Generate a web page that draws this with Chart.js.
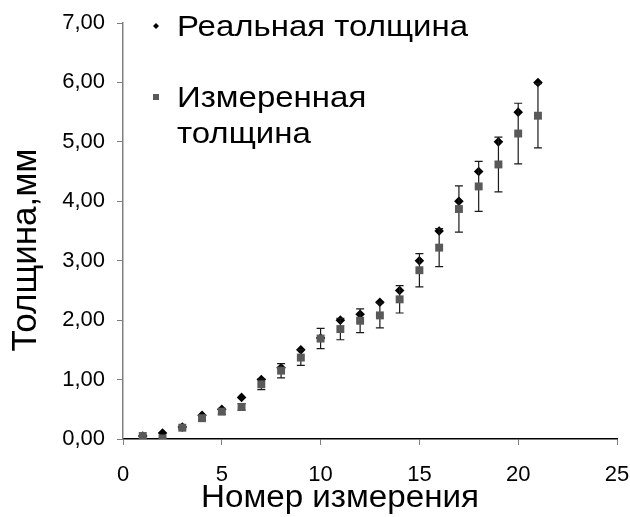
<!DOCTYPE html>
<html>
<head>
<meta charset="utf-8">
<script src="https://cdn.jsdelivr.net/npm/chart.js@4"></script>
<style>
  html, body { margin: 0; padding: 0; background: #fff; }
  #wrap { width: 630px; height: 517px; position: relative; }
</style>
</head>
<body>
<div id="wrap"><canvas id="chart"></canvas></div>
<script>
const FONT = '"Liberation Sans", Arial, sans-serif';

// measurement number
const measurements = [1, 2, 3, 4, 5, 6, 7, 8, 9, 10, 11, 12, 13, 14, 15, 16, 17, 18, 19, 20, 21];
// real thickness, mm
const realThickness = [0.05, 0.10, 0.20, 0.40, 0.50, 0.70, 1.00, 1.20, 1.50, 1.70, 2.00, 2.10, 2.30, 2.50, 3.00, 3.50, 4.00, 4.50, 5.00, 5.50, 6.00];
// measured thickness, mm
const measuredThickness = [0.05, 0.01, 0.19, 0.35, 0.46, 0.54, 0.92, 1.15, 1.37, 1.69, 1.85, 1.99, 2.08, 2.35, 2.84, 3.22, 3.87, 4.25, 4.62, 5.14, 5.44];
// error of measured thickness (+/-), mm
const measuredError = [0.005, 0.001, 0.02, 0.035, 0.046, 0.054, 0.09, 0.12, 0.13, 0.17, 0.18, 0.20, 0.21, 0.23, 0.28, 0.32, 0.39, 0.42, 0.46, 0.51, 0.54];

const xTickLabels = ['0', '5', '10', '15', '20', '25'];
const yTickLabels = ['0,00', '1,00', '2,00', '3,00', '4,00', '5,00', '6,00', '7,00'];

const seriesNames = ['Реальная толщина', ['Измеренная', 'толщина']];
const xTitle = 'Номер измерения';
const yTitle = 'Толщина,мм';

const toPoints = (ys) => measurements.map((x, i) => ({ x, y: ys[i] }));

// error bars of the measured series, drawn just before its squares
const errorBars = {
    id: 'errorBars',
    beforeDatasetDraw(chart, args) {
        if (args.index !== 1) return;
        const { ctx, scales: { x, y } } = chart;
        ctx.save();
        ctx.strokeStyle = '#1a1a1a';
        ctx.lineWidth = 1.2;
        measurements.forEach((m, i) => {
            const px = x.getPixelForValue(m);
            const top = y.getPixelForValue(measuredThickness[i] + measuredError[i]);
            const bot = y.getPixelForValue(measuredThickness[i] - measuredError[i]);
            ctx.beginPath();
            ctx.moveTo(px, top); ctx.lineTo(px, bot);
            ctx.moveTo(px - 4, top); ctx.lineTo(px + 4, top);
            ctx.moveTo(px - 4, bot); ctx.lineTo(px + 4, bot);
            ctx.stroke();
        });
        ctx.restore();
    }
};

// legend inside the plot + axis titles (placed like the original, off-centre)
const annotations = {
    id: 'annotations',
    afterDraw(chart) {
        const { ctx } = chart;
        ctx.save();
        ctx.textBaseline = 'alphabetic';
        ctx.fillStyle = '#000';

        // stretched a bit horizontally, like the source image
        const stretched = (txt, x, y, size, sx) => {
            ctx.save();
            ctx.font = size + 'px ' + FONT;
            ctx.translate(x, y);
            ctx.scale(sx, 1);
            ctx.fillText(txt, 0, 0);
            ctx.restore();
        };

        // real
        ctx.beginPath();
        ctx.moveTo(156, 23); ctx.lineTo(159, 26); ctx.lineTo(156, 29); ctx.lineTo(153, 26);
        ctx.closePath(); ctx.fill();
        stretched(seriesNames[0], 177, 36, 30, 1.1);
        // measured
        ctx.fillStyle = '#595959';
        ctx.fillRect(153, 94, 6, 6);
        ctx.fillStyle = '#000';
        stretched(seriesNames[1][0], 177, 107, 30, 1.1);
        stretched(seriesNames[1][1], 177, 143, 30, 1.1);

        // x title
        ctx.font = '31px ' + FONT;
        const w = ctx.measureText(xTitle).width * 1.07;
        stretched(xTitle, 340 - w / 2, 507, 31, 1.07);

        // y title
        ctx.save();
        ctx.translate(36, 250);
        ctx.rotate(-Math.PI / 2);
        ctx.font = '35px ' + FONT;
        ctx.textAlign = 'center';
        ctx.fillText(yTitle, 0, 0);
        ctx.restore();

        ctx.restore();
    }
};

new Chart(document.getElementById('chart'), {
    type: 'scatter',
    data: {
        datasets: [
            {
                label: seriesNames[0],
                data: toPoints(realThickness),
                pointStyle: 'rectRot',
                pointRadius: 4.8,
                backgroundColor: '#000',
                borderColor: '#000',
                borderWidth: 0,
                order: 2
            },
            {
                label: seriesNames[1].join(' '),
                data: toPoints(measuredThickness),
                pointStyle: 'rect',
                pointRadius: 5.6,
                backgroundColor: '#595959',
                borderColor: '#595959',
                borderWidth: 0,
                order: 1
            }
        ]
    },
    options: {
        responsive: true,
        maintainAspectRatio: false,
        animation: false,
        layout: { padding: { top: 23, right: 13, left: 0, bottom: 0 } },
        plugins: {
            legend: { display: false },
            tooltip: { enabled: false }
        },
        scales: {
            x: {
                type: 'linear',
                min: 0,
                max: 25,
                afterBuildTicks(axis) {
                    axis.ticks = xTickLabels.map(t => ({ value: Number(t) }));
                },
                ticks: {
                    color: '#000',
                    font: { family: FONT, size: 22 },
                    padding: 17,
                    maxRotation: 0,
                    callback: (v, i) => xTickLabels[i]
                },
                grid: { drawOnChartArea: false, drawTicks: true, tickLength: 6, color: '#808080' },
                border: { color: '#000', width: 1.5 },
                afterFit(axis) {
                    axis.height = 78;
                    axis.paddingLeft = 0;
                    axis.paddingRight = 0;
                }
            },
            y: {
                type: 'linear',
                min: 0,
                max: 7,
                afterBuildTicks(axis) {
                    axis.ticks = yTickLabels.map((t, i) => ({ value: i }));
                },
                ticks: {
                    color: '#000',
                    font: { family: FONT, size: 22 },
                    padding: 12,
                    callback: (v, i) => yTickLabels[i]
                },
                grid: { drawOnChartArea: false, drawTicks: true, tickLength: 6, color: '#808080' },
                border: { color: '#808080', width: 1.5 },
                afterFit(axis) {
                    axis.width = 123;
                    axis.paddingTop = 0;
                    axis.paddingBottom = 0;
                }
            }
        }
    },
    plugins: [errorBars, annotations]
});
</script>
</body>
</html>
